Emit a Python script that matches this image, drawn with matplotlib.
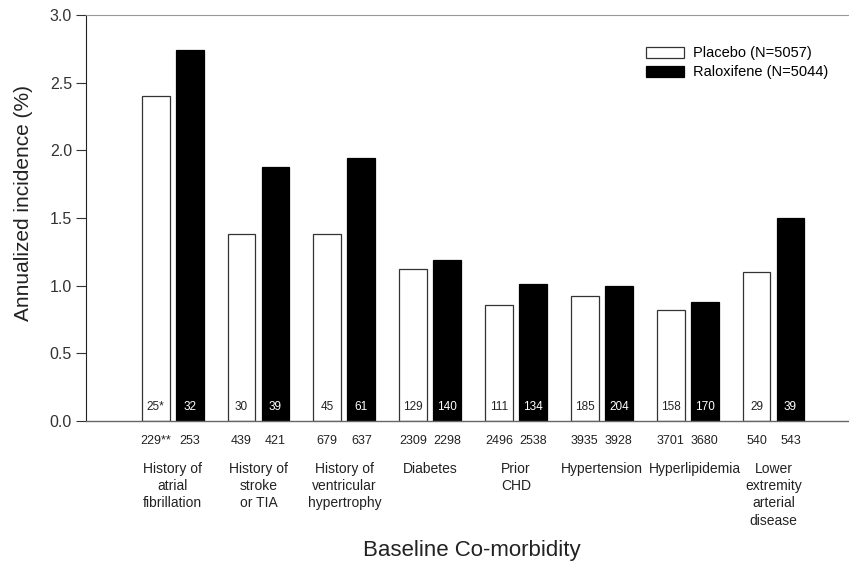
import numpy as np
import matplotlib.pyplot as plt

plt.rcParams['font.family'] = ['Liberation Sans', 'DejaVu Sans']

# Annualized incidence by baseline co-morbidity
categories = ['History of\natrial\nfibrillation', 'History of\nstroke\nor TIA',
              'History of\nventricular\nhypertrophy', 'Diabetes', 'Prior\nCHD',
              'Hypertension', 'Hyperlipidemia', 'Lower\nextremity\narterial\ndisease']
placebo = [2.40, 1.38, 1.38, 1.12, 0.86, 0.92, 0.82, 1.10]
raloxifene = [2.74, 1.88, 1.94, 1.19, 1.01, 1.00, 0.88, 1.50]
placebo_events = ['25*', '30', '45', '129', '111', '185', '158', '29']
raloxifene_events = ['32', '39', '61', '140', '134', '204', '170', '39']
placebo_n = ['229**', '439', '679', '2309', '2496', '3935', '3701', '540']
raloxifene_n = ['253', '421', '637', '2298', '2538', '3928', '3680', '543']

x = np.arange(len(categories))
w = 0.325
off = 0.198

fig = plt.figure(figsize=(8.49, 5.68), dpi=100)
ax = fig.add_axes([0.1013, 0.2588, 0.8987, 0.7148])

ax.bar(x - off, placebo, w, color='white', edgecolor='#333333', linewidth=0.9,
       label='Placebo (N=5057)')
ax.bar(x + off, raloxifene, w, color='black', edgecolor='black', linewidth=0.9,
       label='Raloxifene (N=5044)')

for i in range(len(x)):
    ax.text(x[i] - off, 0.06, placebo_events[i], ha='center', va='bottom',
            fontsize=8.5, color='#222222')
    ax.text(x[i] + off, 0.06, raloxifene_events[i], ha='center', va='bottom',
            fontsize=8.5, color='white')
    ax.text(x[i] - off, -0.10, placebo_n[i], ha='center', va='top', fontsize=9,
            color='#222222')
    ax.text(x[i] + off, -0.10, raloxifene_n[i], ha='center', va='top', fontsize=9,
            color='#222222')
    # shift Hyperlipidemia right so it clears Hypertension
    dx = 0.09 if i == 6 else 0
    ax.text(x[i] + dx, -0.30, categories[i], ha='center', va='top', fontsize=10,
            color='#222222', linespacing=1.3)

ax.set_xlim(-1.01, 7.88)
ax.set_ylim(0, 3.0)
ax.set_yticks(np.arange(0, 3.01, 0.5))
ax.set_yticklabels(['%.1f' % v for v in np.arange(0, 3.01, 0.5)], fontsize=11.5)
ax.set_xticks([])
ax.tick_params(axis='y', direction='out', length=7, width=0.8, pad=3, colors='#333333')

ax.spines['right'].set_visible(False)
ax.spines['top'].set_color('#999999')
ax.spines['bottom'].set_color('#666666')
ax.spines['left'].set_color('#222222')
ax.spines['bottom'].set_linewidth(1.0)

ax.set_ylabel('Annualized incidence (%)', fontsize=15, color='#222222')
ax.yaxis.set_label_coords(-0.07, 0.537)
fig.text(0.556, 0.030, 'Baseline Co-morbidity', ha='center', va='center',
         fontsize=16, color='#222222')

ax.legend(loc='upper right', bbox_to_anchor=(0.99, 0.955), frameon=False,
          fontsize=10.5, handlelength=2.6, handleheight=0.8, handletextpad=0.6,
          labelspacing=0.35)

fig.savefig('out.png', dpi=100)
